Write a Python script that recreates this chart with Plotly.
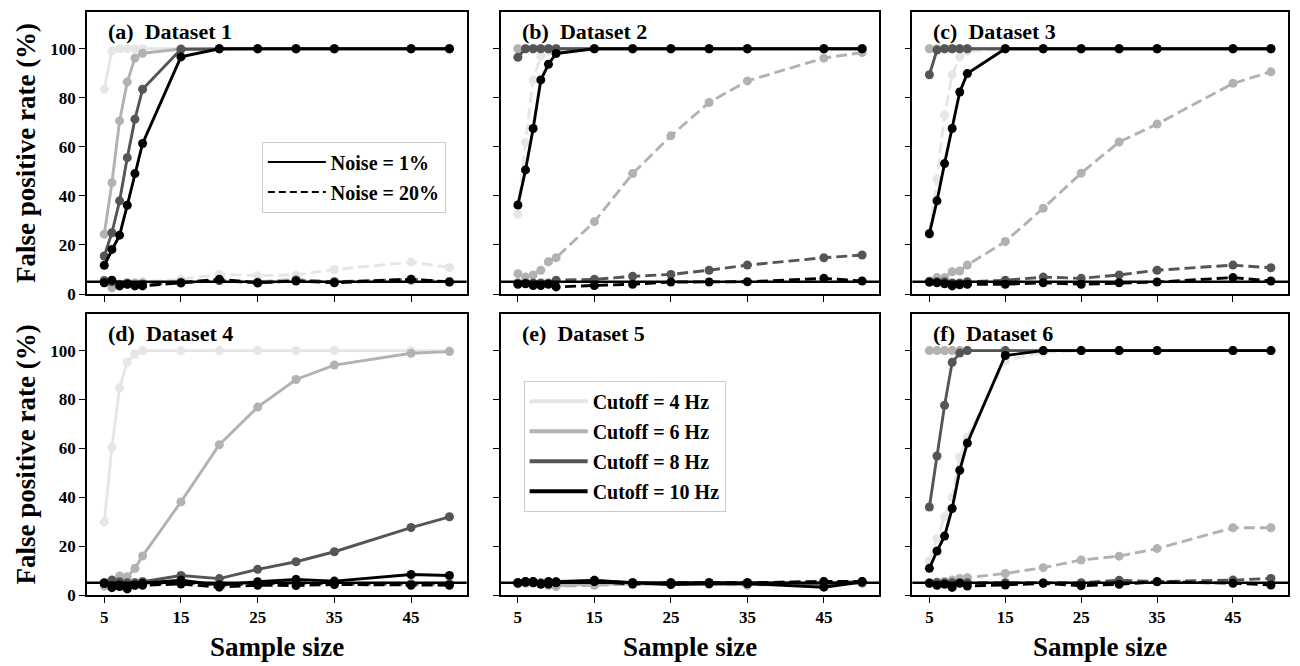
import plotly.graph_objects as go

# ---------------- data ----------------
sample_size = [5, 6, 7, 8, 9, 10, 15, 20, 25, 30, 35, 45, 50]
x_ticks = [5, 15, 25, 35, 45]
y_ticks = [0, 20, 40, 60, 80, 100]
cutoff_labels = ["Cutoff = 4 Hz", "Cutoff = 6 Hz", "Cutoff = 8 Hz", "Cutoff = 10 Hz"]
noise_labels = ["Noise = 1%", "Noise = 20%"]
panel_titles = ["(a)  Dataset 1", "(b)  Dataset 2", "(c)  Dataset 3",
                "(d)  Dataset 4", "(e)  Dataset 5", "(f)  Dataset 6"]
nominal_rate = 5

# rows: cutoff 4, 6, 8, 10 Hz
ds1_noise1 = [
    [83.5, 99.2, 100, 100, 100, 100, 100, 100, 100, 100, 100, 100, 100],
    [24.4, 45.4, 70.6, 86.5, 96.2, 98.2, 99.9, 100, 100, 100, 100, 100, 100],
    [15.5, 25.0, 38.0, 55.6, 71.3, 83.5, 99.8, 100, 100, 100, 100, 100, 100],
    [11.7, 18.2, 24.0, 36.2, 49.1, 61.4, 96.7, 100, 100, 100, 100, 100, 100],
]
ds1_noise20 = [
    [4.5, 3.0, 3.5, 4.0, 4.5, 5.0, 6.0, 8.0, 7.5, 7.8, 10.0, 13.0, 10.8],
    [5.0, 2.5, 3.5, 4.0, 4.5, 4.5, 5.0, 5.5, 5.0, 6.0, 5.0, 5.5, 5.0],
    [5.5, 5.0, 4.0, 4.5, 3.5, 4.0, 4.5, 5.5, 4.5, 5.5, 5.0, 6.0, 5.0],
    [4.6, 5.6, 3.3, 4.0, 3.3, 3.3, 4.6, 6.0, 4.6, 5.3, 4.6, 6.0, 4.9],
]
ds2_noise1 = [
    [100, 100, 100, 100, 100, 100, 100, 100, 100, 100, 100, 100, 100],
    [100, 100, 100, 100, 100, 100, 100, 100, 100, 100, 100, 100, 100],
    [96.5, 100, 100, 100, 100, 100, 100, 100, 100, 100, 100, 100, 100],
    [36.3, 50.6, 67.5, 87.3, 93.7, 98.1, 100, 100, 100, 100, 100, 100, 100],
]
ds2_noise20 = [
    [32.5, 61.8, 87.3, 97.0, 99.0, 100, 100, 100, 100, 100, 100, 100, 100],
    [8.3, 6.9, 7.8, 9.7, 13.2, 14.8, 29.5, 49.1, 64.5, 78.1, 86.9, 96.2, 98.5],
    [4.5, 4.5, 4.5, 4.5, 4.5, 5.6, 6.0, 7.2, 8.0, 9.7, 11.8, 14.8, 15.9],
    [4.0, 4.2, 3.5, 3.5, 4.0, 2.9, 3.5, 4.0, 4.9, 4.9, 5.0, 6.4, 5.3],
]
ds3_noise1 = [
    [100, 100, 100, 100, 100, 100, 100, 100, 100, 100, 100, 100, 100],
    [100, 100, 100, 100, 100, 100, 100, 100, 100, 100, 100, 100, 100],
    [89.4, 99.5, 100, 100, 100, 100, 100, 100, 100, 100, 100, 100, 100],
    [24.6, 38.0, 53.2, 67.5, 82.4, 89.9, 100, 100, 100, 100, 100, 100, 100],
]
ds3_noise20 = [
    [25.0, 46.8, 73.0, 89.4, 96.7, 99.0, 100, 100, 100, 100, 100, 100, 100],
    [5.3, 6.7, 6.7, 9.1, 9.4, 11.8, 21.4, 35.0, 49.3, 62.0, 69.3, 85.9, 90.6],
    [4.9, 5.0, 5.0, 4.5, 4.5, 5.0, 5.6, 6.9, 6.4, 7.8, 9.7, 11.8, 10.7],
    [4.9, 4.6, 4.2, 3.3, 3.8, 4.0, 4.0, 4.6, 4.0, 4.6, 4.9, 6.7, 5.3],
]
ds4_noise1 = [
    [29.9, 60.5, 84.8, 95.2, 98.6, 100, 100, 100, 100, 100, 100, 100, 100],
    [3.7, 5.7, 7.8, 7.5, 10.9, 16.0, 38.1, 61.5, 76.9, 88.2, 94.1, 98.9, 99.6],
    [4.8, 6.1, 5.4, 5.0, 5.0, 5.4, 8.0, 6.7, 10.5, 13.6, 17.7, 27.6, 32.0],
    [4.8, 3.7, 4.1, 3.4, 4.1, 4.8, 6.1, 4.1, 5.4, 6.4, 5.7, 8.4, 8.0],
]
ds4_noise20 = [
    [4.5, 5.0, 5.5, 4.5, 5.0, 5.0, 5.0, 4.5, 5.0, 5.0, 5.0, 5.0, 5.0],
    [5.0, 4.5, 4.5, 5.0, 5.0, 5.5, 5.0, 4.0, 4.5, 5.0, 4.5, 4.5, 4.5],
    [5.0, 4.0, 4.5, 4.0, 4.5, 4.5, 5.0, 4.0, 4.5, 5.0, 4.5, 4.5, 4.5],
    [4.8, 3.0, 3.5, 2.5, 4.0, 4.0, 4.5, 3.2, 4.0, 3.9, 4.3, 4.0, 4.0],
]
ds5_noise1 = [
    [5.0, 5.5, 5.5, 5.0, 5.5, 5.0, 5.5, 5.0, 4.5, 5.0, 4.5, 5.0, 5.0],
    [5.0, 5.0, 5.5, 4.5, 4.0, 3.8, 4.5, 4.5, 4.5, 4.5, 4.5, 5.0, 5.5],
    [5.0, 5.5, 5.5, 5.0, 5.5, 5.5, 6.0, 5.0, 5.0, 5.0, 5.0, 4.5, 5.5],
    [4.8, 5.3, 5.5, 4.6, 5.4, 5.3, 6.0, 5.0, 4.3, 4.6, 4.6, 3.2, 5.3],
]
ds5_noise20 = [
    [4.5, 5.0, 5.0, 4.5, 4.5, 4.5, 4.5, 4.5, 4.5, 4.5, 4.5, 5.0, 4.5],
    [5.0, 5.0, 5.0, 4.5, 4.0, 3.5, 4.0, 4.5, 5.0, 4.5, 4.0, 5.0, 5.0],
    [5.0, 5.0, 5.0, 4.5, 5.0, 5.0, 5.5, 5.0, 4.5, 5.0, 5.0, 5.5, 5.0],
    [5.0, 5.5, 5.0, 4.5, 4.5, 5.0, 5.5, 4.5, 5.0, 5.0, 5.0, 5.5, 5.5],
]
ds6_noise1 = [
    [100, 100, 100, 100, 100, 100, 100, 100, 100, 100, 100, 100, 100],
    [100, 100, 100, 100, 100, 100, 100, 100, 100, 100, 100, 100, 100],
    [36.0, 56.9, 77.6, 95.2, 99.0, 100, 100, 100, 100, 100, 100, 100, 100],
    [10.9, 18.0, 24.1, 35.4, 51.0, 62.2, 98.0, 100, 100, 100, 100, 100, 100],
]
ds6_noise20 = [
    [14.0, 23.0, 32.0, 40.0, 56.5, 64.6, 95.9, 99.3, 100, 100, 100, 100, 100],
    [4.8, 5.3, 5.5, 6.1, 6.8, 7.1, 8.8, 11.2, 14.3, 15.9, 19.0, 27.5, 27.5],
    [5.0, 5.0, 5.0, 5.0, 5.0, 5.0, 5.0, 5.0, 5.0, 6.0, 5.5, 6.1, 6.8],
    [4.8, 4.0, 4.4, 3.1, 4.8, 3.7, 4.1, 4.8, 3.8, 4.4, 5.4, 4.8, 4.1],
]

datasets = [
    (ds1_noise1, ds1_noise20), (ds2_noise1, ds2_noise20), (ds3_noise1, ds3_noise20),
    (ds4_noise1, ds4_noise20), (ds5_noise1, ds5_noise20), (ds6_noise1, ds6_noise20),
]

# ---------------- style ----------------
FONT = "Liberation Serif"
colors = ["#e6e6e6", "#b2b2b2", "#555555", "#000000"]
DASH = "11px,5px"
LW = 2.9
MS = 9

W, H = 1300, 666
ml, mr, mt, mb = 87, 11, 10, 71
pw, ph = W - ml - mr, H - mt - mb
col_px = [(87, 467), (501, 880), (913, 1289)]
row_px = [(10, 293), (313, 595)]
xdom = [[(a - ml) / pw, (b - ml) / pw] for a, b in col_px]
ydom = [[(H - mb - b) / ph, (H - mb - a) / ph] for a, b in row_px]

fig = go.Figure()
layout = dict(
    width=W, height=H,
    margin=dict(l=ml, r=mr, t=mt, b=mb),
    paper_bgcolor="white", plot_bgcolor="white",
    font=dict(family=FONT, size=17, color="black", weight="bold"),
    showlegend=True,
)

annotations = []
shapes = []
for i, (n1, n20) in enumerate(datasets):
    r, c = divmod(i, 3)
    k = i + 1
    xa = "x" if k == 1 else f"x{k}"
    ya = "y" if k == 1 else f"y{k}"
    layout["xaxis" if k == 1 else f"xaxis{k}"] = dict(
        domain=xdom[c], anchor=ya, range=[2.75, 52.25],
        tickvals=x_ticks, ticktext=[str(v) for v in x_ticks] if r == 1 else [""] * 5,
        ticks="outside", ticklen=6, tickwidth=1.4, tickcolor="black",
        showline=True, linecolor="black", linewidth=1.6, mirror=True,
        showgrid=False, zeroline=False,
        tickfont=dict(family=FONT, size=17, weight="bold"),
    )
    layout["yaxis" if k == 1 else f"yaxis{k}"] = dict(
        domain=ydom[r], anchor=xa, range=[0, 115],
        tickvals=y_ticks, ticktext=[str(v) for v in y_ticks] if c == 0 else [""] * 6,
        ticks="outside", ticklen=6, tickwidth=1.4, tickcolor="black",
        showline=True, linecolor="black", linewidth=1.6, mirror=True,
        showgrid=False, zeroline=False,
        tickfont=dict(family=FONT, size=17, weight="bold"),
    )
    for j in range(4):
        for vals, dash in ((n1[j], "solid"), (n20[j], DASH)):
            fig.add_trace(go.Scatter(
                x=sample_size, y=vals, mode="lines+markers",
                line=dict(color=colors[j], width=LW, dash=dash),
                marker=dict(color=colors[j], size=MS),
                xaxis=xa, yaxis=ya, showlegend=False, hoverinfo="skip",
            ))
    shapes.append(dict(type="line", xref=f"{xa} domain", yref=ya, x0=0, x1=1,
                       y0=nominal_rate, y1=nominal_rate,
                       line=dict(color="black", width=2.6), layer="above"))
    annotations.append(dict(
        text=panel_titles[i], xref=f"{xa} domain", yref=f"{ya} domain",
        x=0.05, y=1 - 20 / 283, xanchor="left", yanchor="middle", showarrow=False,
        font=dict(family=FONT, size=22, weight="bold"),
    ))

# legend traces
for lbl, dash in zip(noise_labels, ["solid", "7px,4px"]):
    fig.add_trace(go.Scatter(
        x=[None], y=[None], mode="lines", name=lbl, legend="legend",
        legendgroup=lbl, line=dict(color="black", width=2, dash=dash),
        xaxis="x", yaxis="y",
    ))
for lbl, col in zip(cutoff_labels, colors):
    fig.add_trace(go.Scatter(
        x=[None], y=[None], mode="lines", name=lbl, legend="legend2",
        legendgroup=lbl, line=dict(color=col, width=4),
        xaxis="x5", yaxis="y5",
    ))

legend_common = dict(
    bgcolor="rgba(255,255,255,0.85)", bordercolor="#cccccc", borderwidth=1,
    font=dict(family=FONT, size=20, weight="bold"),
    xanchor="left", yanchor="top", tracegroupgap=1, itemwidth=58,
)
layout["legend"] = dict(x=(262 - ml) / pw, y=(H - mb - 140) / ph, **legend_common)
layout["legend2"] = dict(x=(524 - ml) / pw, y=(H - mb - 380) / ph, **legend_common)

# axis titles
for r in range(2):
    yc = (row_px[r][0] + row_px[r][1]) / 2
    annotations.append(dict(
        text="False positive rate (%)", xref="paper", yref="paper",
        x=(26 - ml) / pw, y=(H - mb - yc) / ph, xanchor="center", yanchor="middle",
        textangle=-90, showarrow=False,
        font=dict(family=FONT, size=27, weight="bold"),
    ))
for c in range(3):
    xc = (col_px[c][0] + col_px[c][1]) / 2
    annotations.append(dict(
        text="Sample size", xref="paper", yref="paper",
        x=(xc - ml) / pw, y=(H - mb - 647) / ph, xanchor="center", yanchor="middle",
        showarrow=False, font=dict(family=FONT, size=27, weight="bold"),
    ))

layout["annotations"] = annotations
layout["shapes"] = shapes
fig.update_layout(**layout)
fig.write_html("out.html")
